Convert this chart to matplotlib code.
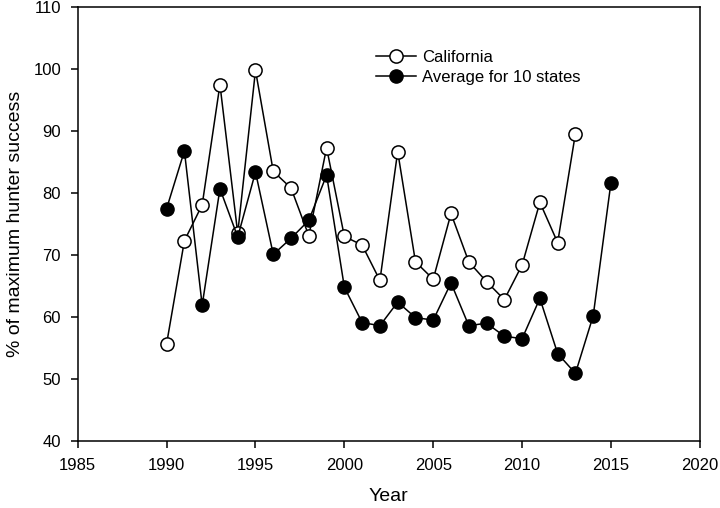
import matplotlib
matplotlib.use("Agg")
import matplotlib.pyplot as plt

plt.rcParams["font.family"] = ["Liberation Sans", "DejaVu Sans"]

years_ca = list(range(1990, 2014))
california = [55.7, 72.3, 78.1, 97.5, 73.5, 99.8, 83.5, 80.8, 73.1, 87.3,
              73.0, 71.6, 65.9, 86.7, 68.9, 66.1, 76.7, 68.9, 65.7, 62.8,
              68.4, 78.5, 72.0, 89.6]

years_avg = list(range(1990, 2016))
avg_10_states = [77.5, 86.8, 61.9, 80.7, 72.9, 83.4, 70.1, 72.7, 75.6, 82.9,
                 64.8, 59.1, 58.6, 62.4, 59.9, 59.5, 65.5, 58.6, 59.0, 56.9,
                 56.5, 63.0, 54.1, 50.9, 60.2, 81.7]

fig = plt.figure(figsize=(7.2, 5.08), dpi=100)
ax = fig.add_axes([0.108, 0.132, 0.864, 0.854])

ax.plot(years_ca, california, "-o", color="black", lw=1.1,
        mfc="white", mec="black", mew=1.1, ms=9.5, label="California")
ax.plot(years_avg, avg_10_states, "-o", color="black", lw=1.1,
        mfc="black", mec="black", ms=9.5, label="Average for 10 states")

ax.set_xlim(1985, 2020)
ax.set_ylim(40, 110)
ax.set_xticks(range(1985, 2021, 5))
ax.set_yticks(range(40, 111, 10))
ax.tick_params(direction="out", length=5, width=1.1, labelsize=12, pad=7)
for s in ax.spines.values():
    s.set_linewidth(1.1)

ax.set_xlabel("Year", fontsize=14, labelpad=11)
ax.set_ylabel("% of maximum hunter success", fontsize=14, labelpad=7)

ax.legend(loc="upper left", bbox_to_anchor=(0.455, 0.935), frameon=False,
          fontsize=12, handlelength=2.4, handletextpad=0.4, labelspacing=0.3)

fig.savefig("out.png", dpi=100)
